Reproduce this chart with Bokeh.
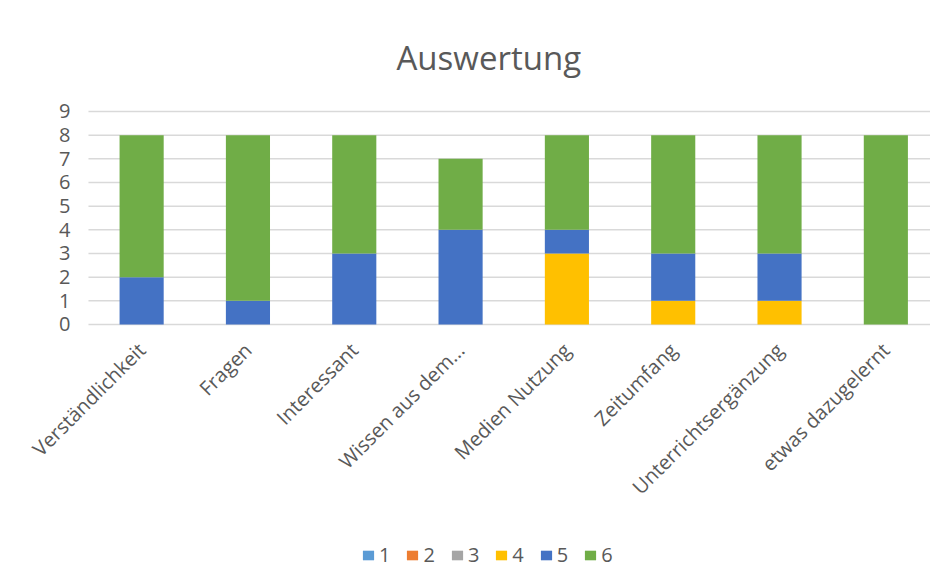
import math
from bokeh.plotting import figure
from bokeh.models import Range1d, FixedTicker, Legend, LegendItem, Title
from bokeh.embed import file_html
from bokeh.resources import INLINE

categories = ["Verständlichkeit", "Fragen", "Interessant", "Wissen aus dem...",
              "Medien Nutzung", "Zeitumfang", "Unterrichtsergänzung", "etwas dazugelernt"]
series_names = ["1", "2", "3", "4", "5", "6"]
s1 = [0, 0, 0, 0, 0, 0, 0, 0]
s2 = [0, 0, 0, 0, 0, 0, 0, 0]
s3 = [0, 0, 0, 0, 0, 0, 0, 0]
s4 = [0, 0, 0, 0, 3, 1, 1, 0]
s5 = [2, 1, 3, 4, 1, 2, 2, 0]
s6 = [6, 7, 5, 3, 4, 5, 5, 8]
colors = ["#5B9BD5", "#ED7D31", "#A5A5A5", "#FFC000", "#4472C4", "#70AD47"]
y_ticks = [0, 1, 2, 3, 4, 5, 6, 7, 8, 9]

FONT = "Open Sans"
TXT = "#595959"

xs = list(range(len(categories)))
data = {"x": xs}
for n, s in zip(series_names, [s1, s2, s3, s4, s5, s6]):
    data[n] = s

X_START, X_END = -0.5, 7.42

# frame extends around the plot area so rotated labels and legend live inside it
p = figure(frame_width=914, frame_height=481, output_backend="svg", toolbar_location=None,
           x_range=Range1d(-1.177, X_END), y_range=Range1d(-10.82, 9.507),
           min_border_left=16, min_border_right=0, min_border_top=99, min_border_bottom=0)
p.outline_line_color = None

p.title = Title(text="Auswertung", align="left", text_font=FONT, text_font_size="33px",
                text_color=TXT, text_font_style="normal", offset=380, standoff=39)

# horizontal gridlines, one per y tick, across the category area only
p.segment(x0=[X_START] * len(y_ticks), x1=[X_END] * len(y_ticks), y0=y_ticks, y1=y_ticks,
          line_color="#D9D9D9", line_width=1.5)

renderers = p.vbar_stack(series_names, x="x", width=0.415, color=colors, source=data,
                         line_color=None)

p.xaxis.fixed_location = 0
p.xaxis.ticker = FixedTicker(ticks=xs)
p.xaxis.major_label_overrides = {i: c for i, c in enumerate(categories)}
p.xaxis.major_label_orientation = math.pi / 4
p.xaxis.major_label_text_font = FONT
p.xaxis.major_label_text_font_size = "20px"
p.xaxis.major_label_text_color = TXT
p.xaxis.major_tick_line_color = None
p.xaxis.minor_tick_line_color = None
p.xaxis.axis_line_color = None
p.xaxis.major_label_standoff = 16

p.yaxis.fixed_location = X_START
p.yaxis.ticker = FixedTicker(ticks=y_ticks)
p.yaxis.major_label_text_font = FONT
p.yaxis.major_label_text_font_size = "20px"
p.yaxis.major_label_text_color = TXT
p.yaxis.major_tick_line_color = None
p.yaxis.minor_tick_line_color = None
p.yaxis.axis_line_color = None
p.yaxis.major_label_standoff = 12

p.xgrid.grid_line_color = None
p.ygrid.grid_line_color = None

legend = Legend(items=[LegendItem(label=n, renderers=[r]) for n, r in zip(series_names, renderers)],
                orientation="horizontal", location=(345, 12),
                label_text_font=FONT, label_text_font_size="20px", label_text_color=TXT,
                glyph_width=14, glyph_height=12, spacing=15, label_standoff=4, label_width=11,
                border_line_color=None, background_fill_alpha=0, margin=0, padding=2)
p.add_layout(legend, "center")

open("out.html", "w").write(file_html(p, INLINE))
